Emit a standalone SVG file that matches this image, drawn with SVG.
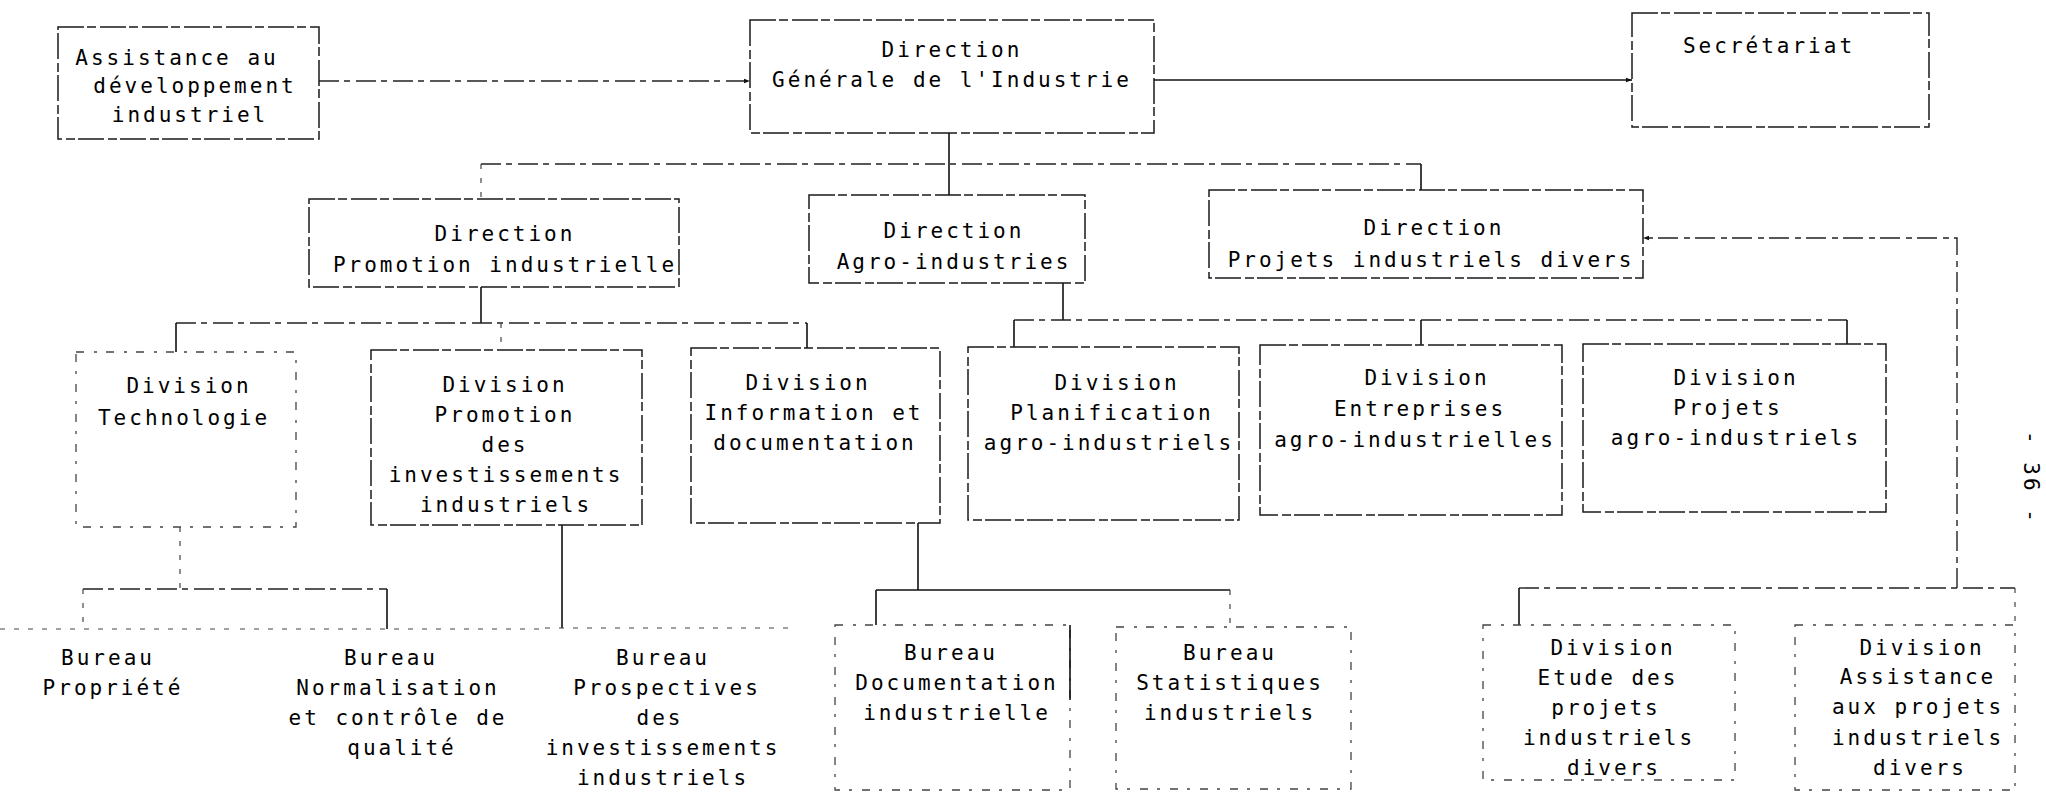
<svg xmlns="http://www.w3.org/2000/svg" width="2046" height="793" viewBox="0 0 2046 793">
<defs>
<style>
.t{font-family:"DejaVu Sans Mono","Liberation Mono",monospace;font-size:21px;letter-spacing:3px;fill:#000;text-anchor:middle}
.b{fill:none;stroke:#1a1a1a;stroke-width:1.5;stroke-dasharray:26 3 9 4}
.bf{fill:none;stroke:#444;stroke-width:1.3;stroke-dasharray:8 10 3 9}
.c{fill:none;stroke:#111;stroke-width:1.6}
.cd{fill:none;stroke:#222;stroke-width:1.4;stroke-dasharray:20 5 6 6}
.cf{fill:none;stroke:#444;stroke-width:1.2;stroke-dasharray:5 9}
</style>
<marker id="ar" viewBox="0 0 8 8" refX="8" refY="4" markerWidth="6" markerHeight="6" orient="auto" markerUnits="userSpaceOnUse">
<path d="M0,1 L8,4 L0,7 z" fill="#111"/>
</marker>
</defs>
<rect width="2046" height="793" fill="#fff"/>

<g id="connectors">
<line class="cd" x1="319" y1="81" x2="750" y2="81" marker-end="url(#ar)"/>
<line class="c" x1="1154" y1="80" x2="1632" y2="80" marker-end="url(#ar)"/>
<line class="c" x1="949" y1="133" x2="949" y2="195"/>
<line class="cd" x1="481" y1="164" x2="1421" y2="164"/>
<line class="cf" x1="481" y1="164" x2="481" y2="199"/>
<line class="c" x1="1421" y1="164" x2="1421" y2="190"/>
<line class="c" x1="481" y1="287" x2="481" y2="323"/>
<line class="cd" x1="176" y1="323" x2="807" y2="323"/>
<line class="c" x1="176" y1="323" x2="176" y2="352"/>
<line class="cf" x1="501" y1="323" x2="501" y2="350"/>
<line class="c" x1="807" y1="323" x2="807" y2="348"/>
<line class="c" x1="1063" y1="283" x2="1063" y2="320"/>
<line class="cd" x1="1014" y1="320" x2="1847" y2="320"/>
<line class="c" x1="1014" y1="320" x2="1014" y2="347"/>
<line class="c" x1="1421" y1="320" x2="1421" y2="345"/>
<line class="c" x1="1847" y1="320" x2="1847" y2="344"/>
<polyline class="cd" points="1957,588 1957,238 1643,238" marker-end="url(#ar)"/>
<line class="cd" x1="1519" y1="588" x2="2015" y2="588"/>
<line class="c" x1="1519" y1="588" x2="1519" y2="625"/>
<line class="cf" x1="2015" y1="588" x2="2015" y2="625"/>
<line class="cf" x1="180" y1="527" x2="180" y2="589"/>
<line class="cd" x1="83" y1="589" x2="387" y2="589"/>
<line class="cf" x1="83" y1="589" x2="83" y2="629"/>
<line class="c" x1="387" y1="589" x2="387" y2="629"/>
<line class="c" x1="562" y1="525" x2="562" y2="628"/>
<line class="c" x1="918" y1="523" x2="918" y2="590"/>
<line class="c" x1="876" y1="590" x2="1230" y2="590"/>
<line class="c" x1="876" y1="590" x2="876" y2="625"/>
<line class="cf" x1="1230" y1="590" x2="1230" y2="627"/>
</g>

<g id="n_assist">
<rect class="b" x="58" y="27" width="261" height="112"/>
<text class="t" x="177" y="65">Assistance au</text>
<text class="t" x="195" y="93">développement</text>
<text class="t" x="190" y="122">industriel</text>
</g>

<g id="n_dg">
<rect class="b" x="750" y="20" width="404" height="113"/>
<text class="t" x="952" y="57">Direction</text>
<text class="t" x="952" y="87">Générale de l'Industrie</text>
</g>

<g id="n_secr">
<rect class="b" x="1632" y="13" width="297" height="114"/>
<text class="t" x="1769" y="53">Secrétariat</text>
</g>

<g id="n_dpi">
<rect class="b" x="309" y="199" width="370" height="88"/>
<text class="t" x="505" y="241">Direction</text>
<text class="t" x="505" y="272">Promotion industrielle</text>
</g>

<g id="n_dai">
<rect class="b" x="809" y="195" width="276" height="88"/>
<text class="t" x="954" y="238">Direction</text>
<text class="t" x="954" y="269">Agro-industries</text>
</g>

<g id="n_dpd">
<rect class="b" x="1209" y="190" width="434" height="88"/>
<text class="t" x="1434" y="235">Direction</text>
<text class="t" x="1431" y="267">Projets industriels divers</text>
</g>

<g id="n_tech">
<rect class="bf" x="76" y="352" width="220" height="175"/>
<text class="t" x="189" y="393">Division</text>
<text class="t" x="184" y="425">Technologie</text>
</g>

<g id="n_pinv">
<rect class="b" x="371" y="350" width="271" height="175"/>
<text class="t" x="505" y="392">Division</text>
<text class="t" x="505" y="422">Promotion</text>
<text class="t" x="505" y="452">des</text>
<text class="t" x="506" y="482">investissements</text>
<text class="t" x="506" y="512">industriels</text>
</g>

<g id="n_info">
<rect class="b" x="691" y="348" width="249" height="175"/>
<text class="t" x="808" y="390">Division</text>
<text class="t" x="814" y="420">Information et</text>
<text class="t" x="815" y="450">documentation</text>
</g>

<g id="n_plan">
<rect class="b" x="968" y="347" width="271" height="173"/>
<text class="t" x="1117" y="390">Division</text>
<text class="t" x="1112" y="420">Planification</text>
<text class="t" x="1109" y="450">agro-industriels</text>
</g>

<g id="n_entr">
<rect class="b" x="1260" y="345" width="302" height="170"/>
<text class="t" x="1427" y="385">Division</text>
<text class="t" x="1420" y="416">Entreprises</text>
<text class="t" x="1415" y="447">agro-industrielles</text>
</g>

<g id="n_pagro">
<rect class="b" x="1583" y="344" width="303" height="168"/>
<text class="t" x="1736" y="385">Division</text>
<text class="t" x="1728" y="415">Projets</text>
<text class="t" x="1736" y="445">agro-industriels</text>
</g>

<g id="n_bprop">
<line class="cf" x1="0" y1="629" x2="230" y2="629"/>
<text class="t" x="108" y="665">Bureau</text>
<text class="t" x="113" y="695">Propriété</text>
</g>

<g id="n_bnorm">
<line class="cf" x1="240" y1="629" x2="540" y2="629"/>
<text class="t" x="391" y="665">Bureau</text>
<text class="t" x="398" y="695">Normalisation</text>
<text class="t" x="398" y="725">et contrôle de</text>
<text class="t" x="402" y="755">qualité</text>
</g>

<g id="n_bprosp">
<line class="cf" x1="545" y1="628" x2="797" y2="628"/>
<text class="t" x="663" y="665">Bureau</text>
<text class="t" x="667" y="695">Prospectives</text>
<text class="t" x="660" y="725">des</text>
<text class="t" x="663" y="755">investissements</text>
<text class="t" x="663" y="785">industriels</text>
</g>

<g id="n_bdoc">
<rect class="bf" x="835" y="625" width="235" height="165"/>
<line class="c" x1="1070" y1="625" x2="1070" y2="700"/>
<text class="t" x="951" y="660">Bureau</text>
<text class="t" x="957" y="690">Documentation</text>
<text class="t" x="957" y="720">industrielle</text>
</g>

<g id="n_bstat">
<rect class="bf" x="1116" y="627" width="235" height="162"/>
<text class="t" x="1230" y="660">Bureau</text>
<text class="t" x="1230" y="690">Statistiques</text>
<text class="t" x="1230" y="720">industriels</text>
</g>

<g id="n_etude">
<rect class="bf" x="1483" y="625" width="252" height="155"/>
<text class="t" x="1613" y="655">Division</text>
<text class="t" x="1608" y="685">Etude des</text>
<text class="t" x="1606" y="715">projets</text>
<text class="t" x="1609" y="745">industriels</text>
<text class="t" x="1614" y="775">divers</text>
</g>

<g id="n_assproj">
<rect class="bf" x="1795" y="625" width="220" height="165"/>
<text class="t" x="1922" y="655">Division</text>
<text class="t" x="1918" y="684">Assistance</text>
<text class="t" x="1918" y="714">aux projets</text>
<text class="t" x="1918" y="745">industriels</text>
<text class="t" x="1920" y="775">divers</text>
</g>

<g id="pagenum">
<text class="t" transform="translate(2024,478) rotate(90)" x="0" y="0">- 36 -</text>
</g>
</svg>
